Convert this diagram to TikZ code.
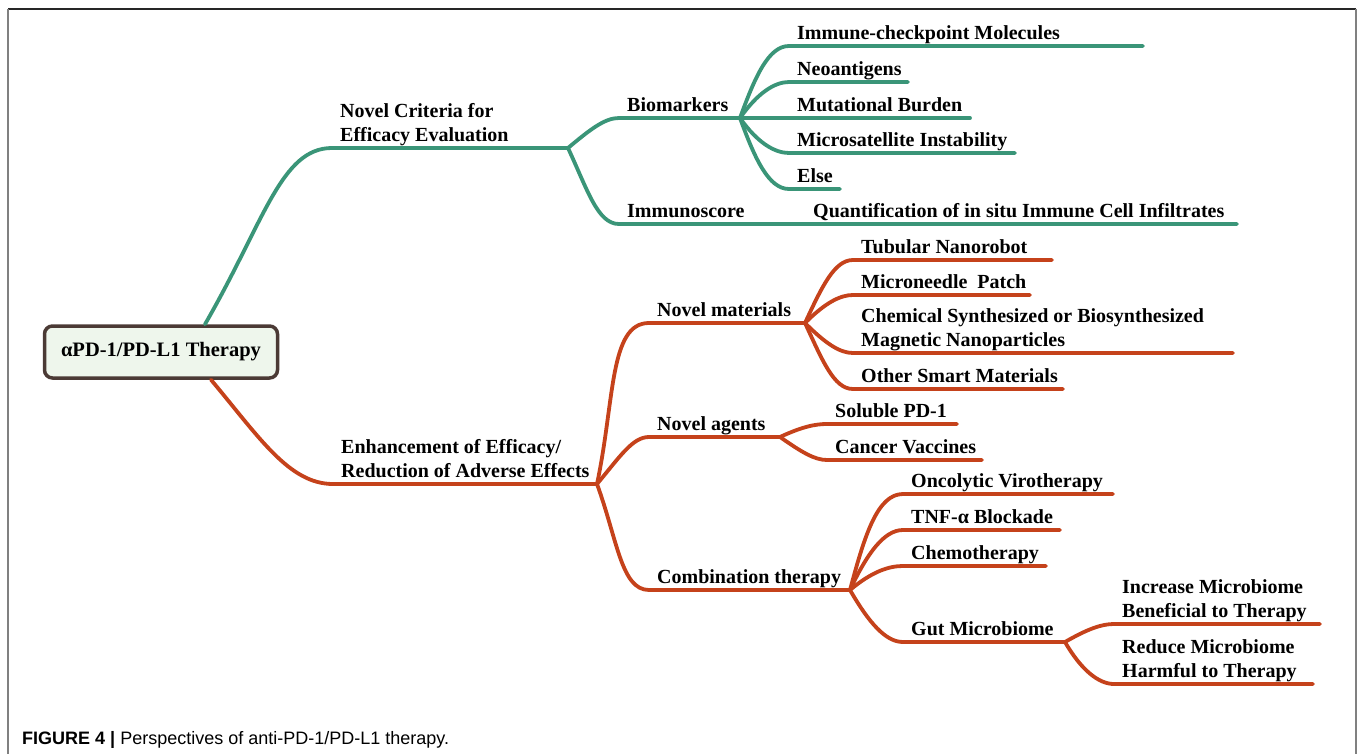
\documentclass[tikz,border=0pt]{standalone}
\usepackage{fontspec}
\setmainfont{Liberation Serif}
\newfontfamily\capfont{Liberation Sans}
\usetikzlibrary{positioning}
\definecolor{mapgreen}{HTML}{3A9578}
\definecolor{mapred}{HTML}{C5421B}
\definecolor{rootfill}{HTML}{EEF6EC}
\definecolor{rootedge}{HTML}{4B3A35}

\begin{document}
\begin{tikzpicture}[
    x=1pt, y=-1pt,
    topic/.style={
        anchor=south west, inner xsep=8pt, inner ysep=1pt,
        text depth=5pt, align=left,
        font=\fontsize{20}{24}\selectfont\bfseries
    },
    rootbox/.style={
        draw=rootedge, fill=rootfill, line width=3.5pt, rounded corners=8pt,
        minimum width=233pt, minimum height=52pt,
        font=\fontsize{20.5}{24}\selectfont\bfseries
    },
    greenline/.style={draw=mapgreen, line width=3.8pt, line cap=round},
    redline/.style={draw=mapred, line width=3.8pt, line cap=round},
    fan/.style={out looseness=1.3, in looseness=0.6}
]
    \useasboundingbox (0,0) rectangle (1360,754);
    % frame
    \draw[line width=1.3pt, black!85] (8,9) -- (1356,9);
    \draw[line width=2pt, black!50] (8,9) -- (8,754);
    \draw[line width=2pt, black!50] (1356,9) -- (1356,754);

    \node[rootbox] (root) at (161,352) {αPD-1/PD-L1 Therapy};

    % green part
    \node[topic] (ncr) at (332,148) {Novel Criteria for\\Efficacy Evaluation};
    \coordinate (ncr-e) at (568,148);
    \node[topic] (bio) at (619,118) {Biomarkers};
    \coordinate (bio-e) at (740,118);
    \node[topic] (imm) at (619,224) {Immunoscore};
    \coordinate (imm-e) at (750,224);
    \node[topic] (quant) at (805,224) {Quantification of in situ Immune Cell Infiltrates};
    \coordinate (quant-e) at (1237,224);

    \node[topic] (imc) at (789,46) {Immune-checkpoint Molecules};
    \coordinate (imc-e) at (1143,46);
    \node[topic] (neo) at (789,82) {Neoantigens};
    \coordinate (neo-e) at (908,82);
    \node[topic] (mut) at (789,118) {Mutational Burden};
    \coordinate (mut-e) at (970,118);
    \node[topic] (msi) at (789,153) {Microsatellite Instability};
    \coordinate (msi-e) at (1015,153);
    \node[topic] (els) at (789,189) {Else};
    \coordinate (els-e) at (840,189);

    \draw[greenline] ([xshift=44pt]root.north) to[out=60, in=180, out looseness=1.4, in looseness=0.6] (ncr.south west) -- (ncr-e);
    \draw[greenline] (ncr-e) to[fan, out=40, in=180] (bio.south west) -- (bio-e);
    \draw[greenline] (ncr-e) to[fan, out=-65, in=180] (imm.south west) -- (imm-e) -- (quant.south west) -- (quant-e);
    \draw[greenline] (bio-e) to[fan, out=70, in=180] (imc.south west) -- (imc-e);
    \draw[greenline] (bio-e) to[fan, out=55, in=180] (neo.south west) -- (neo-e);
    \draw[greenline] (bio-e) -- (mut.south west) -- (mut-e);
    \draw[greenline] (bio-e) to[fan, out=-55, in=180] (msi.south west) -- (msi-e);
    \draw[greenline] (bio-e) to[fan, out=-70, in=180] (els.south west) -- (els-e);

    % red part
    \node[topic] (enh) at (333,484) {Enhancement of Efficacy/\\Reduction of Adverse Effects};
    \coordinate (enh-e) at (597,484);
    \node[topic] (nmat) at (649,323) {Novel materials};
    \coordinate (nmat-e) at (805,323);
    \node[topic] (nag) at (649,437) {Novel agents};
    \coordinate (nag-e) at (780,437);
    \node[topic] (comb) at (649,590) {Combination therapy};
    \coordinate (comb-e) at (850,590);

    \node[topic] (tub) at (853,260) {Tubular Nanorobot};
    \coordinate (tub-e) at (1052,260);
    \node[topic] (patch) at (853,295) {Microneedle~~Patch};
    \coordinate (patch-e) at (1030,295);
    \node[topic] (chem) at (853,353) {Chemical Synthesized or Biosynthesized\\Magnetic Nanoparticles};
    \coordinate (chem-e) at (1233,353);
    \node[topic] (oth) at (853,389) {Other Smart Materials};
    \coordinate (oth-e) at (1063,389);

    \node[topic] (sol) at (827,424) {Soluble PD-1};
    \coordinate (sol-e) at (957,424);
    \node[topic] (vac) at (827,460) {Cancer Vaccines};
    \coordinate (vac-e) at (982,460);

    \node[topic] (onc) at (903,494) {Oncolytic Virotherapy};
    \coordinate (onc-e) at (1113,494);
    \node[topic] (tnf) at (903,530) {TNF-α Blockade};
    \coordinate (tnf-e) at (1060,530);
    \node[topic] (che) at (903,566) {Chemotherapy};
    \coordinate (che-e) at (1046,566);
    \node[topic] (gut) at (903,642) {Gut Microbiome};
    \coordinate (gut-e) at (1065,642);

    \node[topic] (inc) at (1114,624) {Increase Microbiome\\Beneficial to Therapy};
    \coordinate (inc-e) at (1320,624);
    \node[topic] (red) at (1114,684) {Reduce Microbiome\\Harmful to Therapy};
    \coordinate (red-e) at (1313,684);

    \draw[redline] ([xshift=50pt]root.south) to[out=-50, in=180, out looseness=1.2, in looseness=0.7] (enh.south west) -- (enh-e);
    \draw[redline] (enh-e) to[fan, out=78, in=180] (nmat.south west) -- (nmat-e);
    \draw[redline] (enh-e) to[fan, out=50, in=180] (nag.south west) -- (nag-e);
    \draw[redline] (enh-e) to[fan, out=-70, in=180] (comb.south west) -- (comb-e);

    \draw[redline] (nmat-e) to[fan, out=65, in=180] (tub.south west) -- (tub-e);
    \draw[redline] (nmat-e) to[fan, out=45, in=180] (patch.south west) -- (patch-e);
    \draw[redline] (nmat-e) to[fan, out=-45, in=180] (chem.south west) -- (chem-e);
    \draw[redline] (nmat-e) to[fan, out=-65, in=180] (oth.south west) -- (oth-e);

    \draw[redline] (nag-e) to[fan, out=25, in=180] (sol.south west) -- (sol-e);
    \draw[redline] (nag-e) to[fan, out=-35, in=180] (vac.south west) -- (vac-e);

    \draw[redline] (comb-e) to[fan, out=75, in=180] (onc.south west) -- (onc-e);
    \draw[redline] (comb-e) to[fan, out=65, in=180] (tnf.south west) -- (tnf-e);
    \draw[redline] (comb-e) to[fan, out=40, in=180] (che.south west) -- (che-e);
    \draw[redline] (comb-e) to[fan, out=-60, in=180] (gut.south west) -- (gut-e);

    \draw[redline] (gut-e) to[fan, out=30, in=180] (inc.south west) -- (inc-e);
    \draw[redline] (gut-e) to[fan, out=-60, in=180] (red.south west) -- (red-e);

    % caption
    \node[anchor=base west, inner sep=0pt, font=\capfont\fontsize{18}{22}\selectfont] (cap) at (22,744)
        {\textbf{FIGURE 4 |} Perspectives of anti-PD-1/PD-L1 therapy.};
\end{tikzpicture}
\end{document}
